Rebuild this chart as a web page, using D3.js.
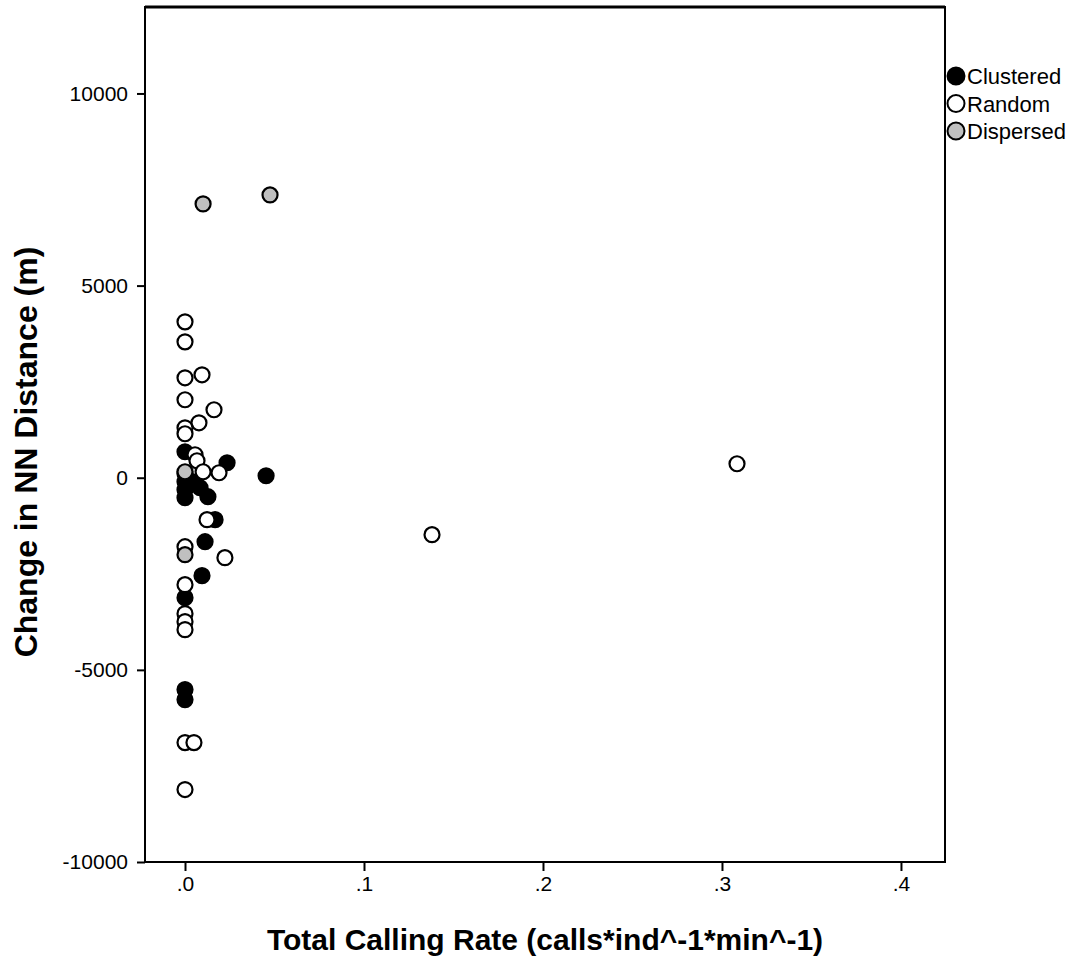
<!DOCTYPE html>
<html>
<head>
<meta charset="utf-8">
<script src="https://cdn.jsdelivr.net/npm/d3@7"></script>
<style>
    body { margin: 0; background: #fff; }
    svg { font-family: Arial, "Liberation Sans", sans-serif; }
</style>
</head>
<body>
<div class="chart"></div>
<script>
// values
const xTicks = [0, 0.1, 0.2, 0.3, 0.4];
const xTickLabels = [".0", ".1", ".2", ".3", ".4"];
const yTicks = [-10000, -5000, 0, 5000, 10000];
const yTickLabels = ["-10000", "-5000", "0", "5000", "10000"];

const groups = ["Clustered", "Random", "Dispersed"];
const groupFill = ["#000000", "#ffffff", "#c0c0c0"];

const clusteredX = [0, 0, 0, 0, 0, 0.0045, 0.0084, 0.0128, 0.0235, 0.0168, 0.0112, 0.0095, 0, 0, 0, 0.0453];
const clusteredY = [676, 104, -104, -312, -520, -104, -260, -494, 390, -1092, -1665, -2549, -3121, -5514, -5774, 52];

const randomX = [0, 0, 0, 0.0095, 0, 0.0162, 0.0078, 0, 0, 0.0056, 0.0067, 0.0101, 0.019, 0, 0.0223, 0, 0, 0, 0, 0, 0.005, 0, 0.3084, 0.138, 0.0123];
const randomY = [4057, 3537, 2601, 2679, 2029, 1769, 1430, 1300, 1144, 598, 442, 156, 130, -1795, -2081, -2783, -3537, -3745, -3953, -6892, -6892, -8114, 364, -1482, -1092];

const dispersedX = [0.0101, 0.0475, 0, 0];
const dispersedY = [7126, 7360, 156, -2003];

const W = 1080, H = 959;
const margin = {top: 7, right: 135, bottom: 97, left: 145};

const svg = d3.select(".chart").append("svg")
    .attr("width", W).attr("height", H);

let x = d3.scaleLinear().domain([-0.02235, 0.4246]).range([margin.left, W - margin.right]);
let y = d3.scaleLinear().domain([-10000, 12250]).range([H - margin.bottom, margin.top]);

// frame
svg.append("rect")
    .attr("x", x.range()[0]).attr("y", y.range()[1])
    .attr("width", x.range()[1] - x.range()[0])
    .attr("height", y.range()[0] - y.range()[1])
    .attr("fill", "none").attr("stroke", "#000").attr("stroke-width", 2);
svg.append("line")
    .attr("x1", x.range()[0]).attr("x2", x.range()[1])
    .attr("y1", y.range()[1]).attr("y2", y.range()[1])
    .attr("stroke", "#000").attr("stroke-width", 3);

// axes
let xAxis = svg.append("g")
    .attr("transform", "translate(0," + y.range()[0] + ")")
    .call(d3.axisBottom(x).tickValues(xTicks).tickSize(9).tickPadding(5)
        .tickFormat((d, i) => xTickLabels[i]));
let yAxis = svg.append("g")
    .attr("transform", "translate(" + x.range()[0] + ",0)")
    .call(d3.axisLeft(y).tickValues(yTicks).tickSize(9).tickPadding(8)
        .tickFormat((d, i) => yTickLabels[i]));

[xAxis, yAxis].forEach(a => {
    a.select(".domain").remove();
    a.selectAll(".tick line").attr("stroke", "#000").attr("stroke-width", 2);
    a.selectAll(".tick text").attr("fill", "#000").attr("font-size", "21px")
        .attr("font-family", "Arial, 'Liberation Sans', sans-serif");
});
yAxis.selectAll(".tick line").attr("x2", -8);

// axis titles
svg.append("text")
    .attr("x", 545).attr("y", 950)
    .attr("text-anchor", "middle")
    .attr("font-size", "30px").attr("font-weight", "bold")
    .text("Total Calling Rate (calls*ind^-1*min^-1)");
svg.append("text")
    .attr("transform", "translate(37,452) rotate(-90)")
    .attr("text-anchor", "middle")
    .attr("font-size", "32px").attr("font-weight", "bold")
    .text("Change in NN Distance (m)");

// points
let series = [
    {key: groups[0], xs: clusteredX, ys: clusteredY},
    {key: groups[1], xs: randomX, ys: randomY},
    {key: groups[2], xs: dispersedX, ys: dispersedY}
];
let pts = [];
series.forEach((s, i) => {
    s.xs.forEach((v, j) => pts.push({x: v, y: s.ys[j], g: i}));
});

svg.append("g")
    .selectAll("circle")
    .data(pts)
    .enter().append("circle")
    .attr("cx", d => x(d.x))
    .attr("cy", d => y(d.y))
    .attr("r", 7.5)
    .attr("fill", d => groupFill[d.g])
    .attr("stroke", "#000")
    .attr("stroke-width", 2.2);

// legend
let legend = svg.append("g").attr("transform", "translate(956,76)");
legend.selectAll("g")
    .data(groups)
    .enter().append("g")
    .attr("transform", (d, i) => "translate(0," + (i * 27.5) + ")")
    .each(function (d, i) {
        let g = d3.select(this);
        g.append("circle").attr("r", 8.5)
            .attr("fill", groupFill[i]).attr("stroke", "#000").attr("stroke-width", 2);
        g.append("text").attr("x", 11).attr("y", 8)
            .attr("font-size", "22px").attr("fill", "#000")
            .text(d);
    });
</script>
</body>
</html>
